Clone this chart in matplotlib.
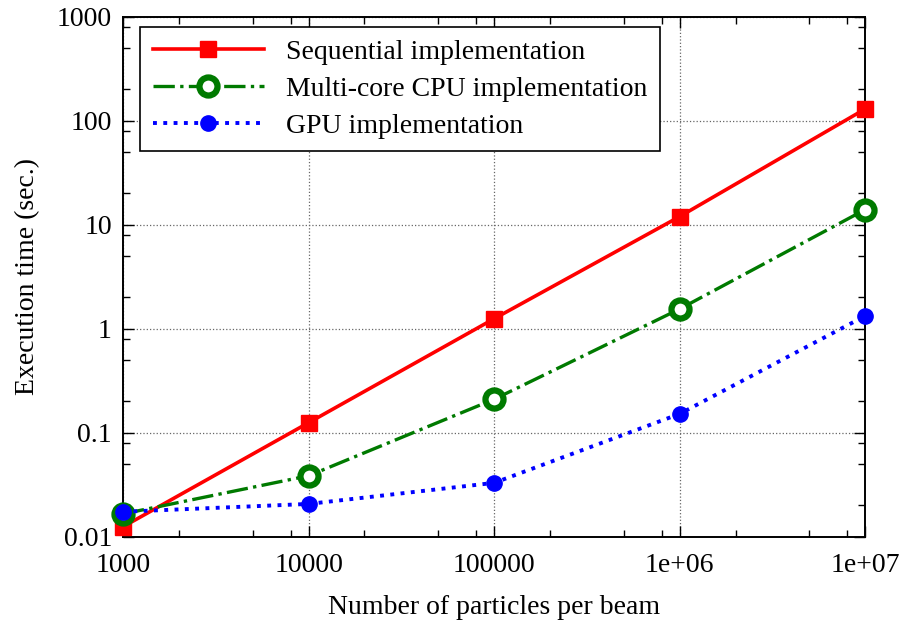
import matplotlib.pyplot as plt
from matplotlib.ticker import LogLocator, NullFormatter

plt.rcParams['font.family'] = ['Liberation Serif', 'DejaVu Serif']

# nombre de particules par faisceau
particules = [1000, 10000, 100000, 1000000, 10000000]
# temps d'execution (sec.)
t_sequentiel = [0.0125, 0.125, 1.25, 12.0, 130.0]
t_multicoeur = [0.0166, 0.0386, 0.21, 1.55, 14.0]
t_gpu = [0.0174, 0.0207, 0.033, 0.152, 1.33]

x_ticks = [1000, 10000, 100000, 1000000, 10000000]
x_labels = ['1000', '10000', '100000', '1e+06', '1e+07']
y_ticks = [0.01, 0.1, 1, 10, 100, 1000]
y_labels = ['0.01', '0.1', '1', '10', '100', '1000']

fig = plt.figure(figsize=(9.05, 6.22), dpi=100)
ax = fig.add_axes([0.136, 0.137, 0.82, 0.836])

ax.plot(particules, t_sequentiel, color='#ff0000', linestyle='-', linewidth=2.6,
        marker='s', markersize=11, label='Sequential implementation',
        clip_on=False, zorder=4)
ax.plot(particules, t_multicoeur, color='#007a00', linestyle='-.', linewidth=2.4,
        marker='o', markersize=13, markerfacecolor='white', markeredgewidth=4.5,
        label='Multi-core CPU implementation', clip_on=False, zorder=4)
ax.plot(particules, t_gpu, color='#0000ff', linestyle=':', linewidth=2.8,
        marker='o', markersize=11, label='GPU implementation',
        clip_on=False, zorder=4)

ax.set_xscale('log')
ax.set_yscale('log')
ax.set_xlim(1000, 10000000)
ax.set_ylim(0.01, 1000)
ax.set_xticks(x_ticks)
ax.set_xticklabels(x_labels)
ax.set_yticks(y_ticks)
ax.set_yticklabels(y_labels)
# petites graduations a 2, 5, 8 comme gnuplot
ax.xaxis.set_minor_locator(LogLocator(base=10, subs=[2, 5, 8]))
ax.yaxis.set_minor_locator(LogLocator(base=10, subs=[2, 5, 8]))
ax.xaxis.set_minor_formatter(NullFormatter())
ax.yaxis.set_minor_formatter(NullFormatter())
ax.tick_params(which='both', direction='in', top=True, right=True, labelsize=20)
ax.tick_params(which='major', length=8, width=1)
ax.tick_params(which='minor', length=5, width=1)
ax.tick_params(axis='x', pad=12)
ax.tick_params(axis='y', pad=8)
ax.grid(True, which='major', linestyle=':', color='#666666', linewidth=0.9)
for s in ax.spines.values():
    s.set_linewidth(1.4)

ax.set_xlabel('Number of particles per beam', fontsize=20, labelpad=12)
ax.set_ylabel('Execution time (sec.)', fontsize=20, labelpad=12)

leg = ax.legend(loc='upper left', bbox_to_anchor=(0.023, 0.981), fontsize=20,
                handlelength=4.0, fancybox=False, framealpha=1,
                edgecolor='black', borderpad=0.45, labelspacing=0.42,
                handletextpad=0.8, borderaxespad=0)
leg.get_frame().set_linewidth(1.2)
leg.set_zorder(5)

plt.savefig('out.png', dpi=100)
